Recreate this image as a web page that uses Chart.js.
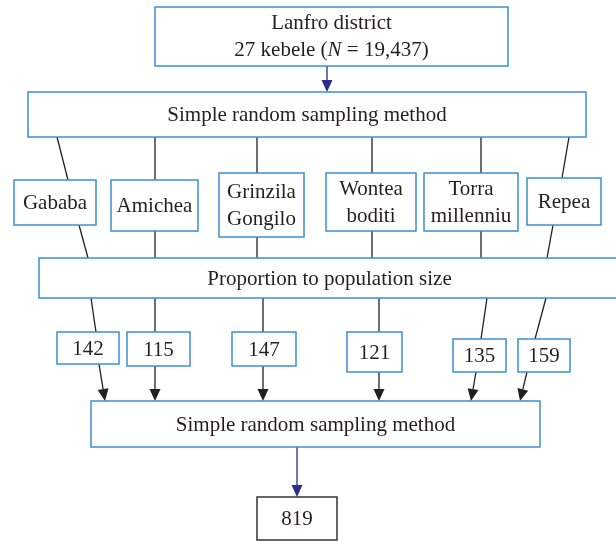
<!DOCTYPE html>
<html>
<head>
<meta charset="utf-8">
<script src="https://cdn.jsdelivr.net/npm/chart.js@4/dist/chart.umd.min.js"></script>
<style>
  html, body { margin: 0; padding: 0; background: #fff; }
  canvas { display: block; }
</style>
</head>
<body>
<canvas id="flow" width="616" height="541"></canvas>
<script>
// Contenuto del diagramma
const districtName = 'Lanfro district';
const districtKebele = 27;
const districtN = '19,437';
const stepLabels = ['Simple random sampling method', 'Proportion to population size', 'Simple random sampling method'];
const kebeleNames = [['Gababa'], ['Amichea'], ['Grinzila', 'Gongilo'], ['Wontea', 'boditi'], ['Torra', 'millenniu'], ['Repea']];
const sampleSizes = [142, 115, 147, 121, 135, 159];
const totalSample = 819;

// Layout (unità = pixel del riferimento, convertite dalle scale)
const topBox = [155, 7, 508, 66];
const stepBoxes = [[28, 92, 586, 137], [39, 258, 620, 298], [91, 401, 540, 447]];
const kebeleBoxes = [[14, 180, 96, 225], [111, 180, 198, 231], [219, 173, 304, 237], [326, 173, 416, 231], [424, 173, 518, 231], [527, 178, 601, 225]];
const countBoxes = [[57, 332, 119, 364], [127, 332, 190, 366], [232, 332, 296, 366], [347, 332, 402, 372], [453, 339, 506, 372], [518, 339, 570, 372]];
const totalBox = [257, 497, 337, 540];
// x dei collegamenti: [partenza, arrivo]
const linkStepToKebele = [[57, 68], [155, 155], [257, 257], [372, 372], [481, 481], [569, 562]];
const linkKebeleToProp = [[79, 88], [155, 155], [257, 257], [372, 372], [481, 481], [553, 547]];
const linkPropToCount = [[91, 96], [155, 155], [263, 263], [379, 379], [487, 481], [546, 535]];
const linkCountToStep = [[99, 105], [155, 155], [263, 263], [379, 379], [476, 471], [527, 520]];

const BLUE = '#3b8fd0';
const TEXT = '#231f20';
const LINE = '#231f20';
const NAVY = '#2e2b8c';
const FONT = '21px "Liberation Serif", "DejaVu Serif", serif';

const flowPlugin = {
    id: 'flow',
    afterDraw(chart) {
        const ctx = chart.ctx;
        const sx = chart.scales.x, sy = chart.scales.y;
        const X = v => sx.getPixelForValue(v);
        const Y = v => sy.getPixelForValue(v);

        function box(b, color) {
            ctx.save();
            ctx.strokeStyle = color || BLUE;
            ctx.lineWidth = 1.5;
            ctx.fillStyle = '#fff';
            const x = X(b[0]), y = Y(b[1]), w = X(b[2]) - x, h = Y(b[3]) - y;
            ctx.fillRect(x, y, w, h);
            ctx.strokeRect(x, y, w, h);
            ctx.restore();
        }

        function lines(b, rows) {
            ctx.save();
            ctx.font = FONT;
            ctx.fillStyle = TEXT;
            ctx.textAlign = 'center';
            ctx.textBaseline = 'middle';
            const cx = (X(b[0]) + X(b[2])) / 2;
            const cy = (Y(b[1]) + Y(b[3])) / 2;
            const lh = 27;
            rows.forEach((r, i) => {
                ctx.fillText(r, cx, cy + (i - (rows.length - 1) / 2) * lh + 1);
            });
            ctx.restore();
        }

        function link(x1, y1, x2, y2, arrow, color) {
            ctx.save();
            ctx.strokeStyle = color || LINE;
            ctx.fillStyle = color || LINE;
            ctx.lineWidth = 1.3;
            const ax = X(x1), ay = Y(y1), bx = X(x2), by = Y(y2);
            const ang = Math.atan2(by - ay, bx - ax);
            const head = arrow ? 12 : 0;
            ctx.beginPath();
            ctx.moveTo(ax, ay);
            ctx.lineTo(bx - head * Math.cos(ang), by - head * Math.sin(ang));
            ctx.stroke();
            if (arrow) {
                const hw = 5.5;
                const px = bx - head * Math.cos(ang), py = by - head * Math.sin(ang);
                ctx.beginPath();
                ctx.moveTo(bx, by);
                ctx.lineTo(px + hw * Math.sin(ang), py - hw * Math.cos(ang));
                ctx.lineTo(px - hw * Math.sin(ang), py + hw * Math.cos(ang));
                ctx.closePath();
                ctx.fill();
            }
            ctx.restore();
        }

        // collegamenti
        link(327, topBox[3], 327, stepBoxes[0][1], true, NAVY);
        kebeleBoxes.forEach((b, i) => {
            link(linkStepToKebele[i][0], stepBoxes[0][3], linkStepToKebele[i][1], b[1], false);
            link(linkKebeleToProp[i][0], b[3], linkKebeleToProp[i][1], stepBoxes[1][1], false);
        });
        countBoxes.forEach((b, i) => {
            link(linkPropToCount[i][0], stepBoxes[1][3], linkPropToCount[i][1], b[1], false);
            link(linkCountToStep[i][0], b[3], linkCountToStep[i][1], stepBoxes[2][1], true);
        });
        link(297, stepBoxes[2][3], 297, totalBox[1], true, NAVY);

        // riquadri
        box(topBox);
        ctx.save();
        ctx.font = FONT;
        ctx.fillStyle = TEXT;
        ctx.textBaseline = 'middle';
        ctx.textAlign = 'center';
        const tcx = (X(topBox[0]) + X(topBox[2])) / 2;
        ctx.fillText(districtName, tcx, Y(23));
        const parts = [[districtKebele + ' kebele (', false], ['N', true], [' = ' + districtN + ')', false]];
        const fontOf = it => (it ? 'italic ' : '') + FONT;
        let total = 0;
        parts.forEach(p => { ctx.font = fontOf(p[1]); total += ctx.measureText(p[0]).width; });
        let xx = tcx - total / 2;
        ctx.textAlign = 'left';
        parts.forEach(p => {
            ctx.font = fontOf(p[1]);
            ctx.fillText(p[0], xx, Y(50));
            xx += ctx.measureText(p[0]).width;
        });
        ctx.restore();

        stepBoxes.forEach((b, i) => { box(b); lines(b, [stepLabels[i]]); });
        kebeleBoxes.forEach((b, i) => { box(b); lines(b, kebeleNames[i]); });
        countBoxes.forEach((b, i) => { box(b); lines(b, [String(sampleSizes[i])]); });
        box(totalBox, '#333');
        lines(totalBox, [String(totalSample)]);
    }
};

new Chart(document.getElementById('flow'), {
    type: 'scatter',
    data: { datasets: [{ data: [], pointRadius: 0 }] },
    options: {
        responsive: false,
        animation: false,
        events: [],
        layout: { padding: 0 },
        plugins: { legend: { display: false }, tooltip: { enabled: false } },
        scales: {
            x: { type: 'linear', min: 0, max: 616, display: false },
            y: { type: 'linear', min: 0, max: 541, reverse: true, display: false }
        }
    },
    plugins: [flowPlugin]
});
</script>
</body>
</html>
